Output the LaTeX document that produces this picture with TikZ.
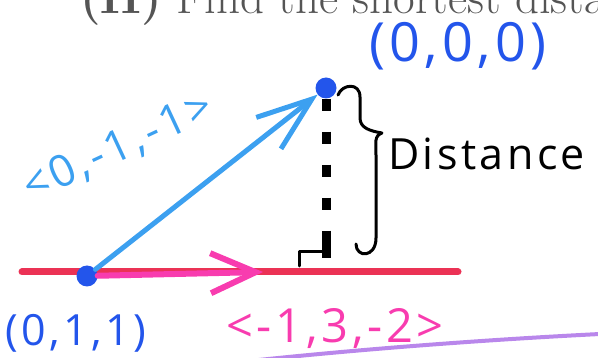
\documentclass[tikz,border=0pt]{standalone}
\usepackage{fontspec}
\newfontfamily\handfont[LetterSpace=8]{Open Sans}
\usetikzlibrary{arrows.meta}
\definecolor{penblue}{RGB}{35,85,235}
\definecolor{skyblue}{RGB}{60,160,240}
\definecolor{linered}{RGB}{235,50,85}
\definecolor{penpink}{RGB}{248,60,175}
\definecolor{penpurple}{RGB}{185,135,235}
\definecolor{printgray}{RGB}{85,85,85}

\begin{document}
\begin{tikzpicture}[x=1pt, y=-1pt, line cap=round, line join=round,
  dot/.style={circle, fill=penblue, inner sep=0pt, minimum size=21pt},
  hand/.style={font=\handfont\fontsize{#1}{#1}\selectfont, inner sep=0pt},
  barb/.style={-{Straight Barb[length=#1, width=40pt]}}]
  \useasboundingbox (0,0) rectangle (598,358);
  \clip (0,0) rectangle (598,358);
  \node[anchor=base west, inner sep=0pt, text=printgray, font=\fontsize{47}{50}\selectfont] (title) at (80,14) {\textbf{(II)} Find the shortest distance};
  \draw[penpurple, line width=4pt] (240,362) .. controls (350,350) and (480,340) .. (600,334);
  \coordinate (lstart) at (22,272);
  \coordinate (lend) at (458,272);
  \coordinate (tip) at (263,272);
  \coordinate (dashend) at (326,258);
  \draw[linered, line width=7pt] (lstart) -- (lend);
  \node[dot] (pline) at (87,276) {};
  \node[dot] (porigin) at (326,88) {};
  \draw[penpink, line width=6pt, barb=45pt] (pline) -- (tip);
  \draw[skyblue, line width=5pt, barb=55pt] (pline) -- (porigin);
  \draw[line width=9pt, line cap=butt, dash pattern=on 12pt off 21pt on 12pt off 21pt on 12pt off 21pt on 12pt off 21pt on 30pt off 10pt] (porigin) -- (dashend);
  \draw[line width=3pt] (299,266) -- (299,252) -- (326,252);
  \draw[line width=3pt] (338,95) .. controls (342,84) and (360,82) .. (360,97) -- (360,118)
    .. controls (360,128) and (370,131) .. (382,133)
    .. controls (374,136) and (376,142) .. (376,155) -- (376,238)
    .. controls (376,258) and (356,258) .. (356,244);
  \node[hand=54, text=penblue] (lorigin) at (458,46) {(0,0,0)};
  \node[hand=43, text=penblue] (lline) at (76,333) {(0,1,1)};
  \node[hand=44, text=skyblue, rotate=25] (ldir) at (118,148) {<0,-1,-1>};
  \node[hand=47, text=penpink] (lpink) at (335,329) {<-1,3,-2>};
  \node[hand=43, anchor=base west] (ldist) at (388,170) {Distance};
\end{tikzpicture}
\end{document}
